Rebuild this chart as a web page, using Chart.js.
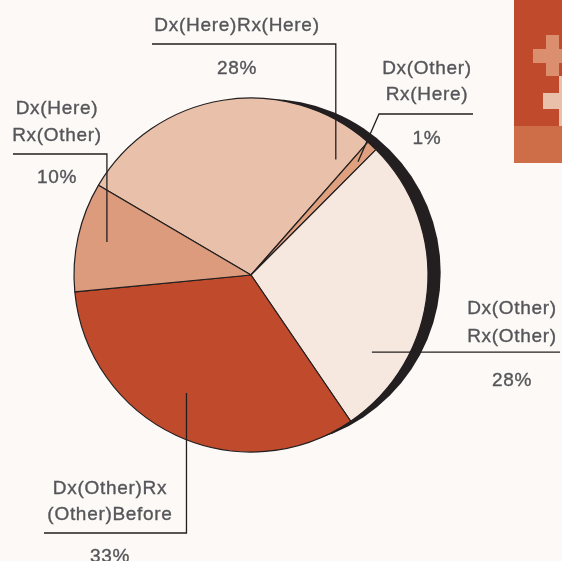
<!DOCTYPE html>
<html>
<head>
<meta charset="utf-8">
<script src="https://cdn.jsdelivr.net/npm/chart.js@4"></script>
<style>
  html, body { margin: 0; padding: 0; background: #fdf9f6; }
  #wrap { width: 562px; height: 561px; position: relative; }
</style>
</head>
<body>
<div id="wrap"><canvas id="pieChart"></canvas></div>
<script>
// data, clockwise from the upper-left slice
const categories = ['Dx(Here)Rx(Here)', 'Dx(Other)Rx(Here)', 'Dx(Other)Rx(Other)', 'Dx(Other)Rx(Other)Before', 'Dx(Here)Rx(Other)'];
const shares = [28, 1, 28, 33, 10];
const labelLines = [['Dx(Here)Rx(Here)'], ['Dx(Other)', 'Rx(Here)'], ['Dx(Other)', 'Rx(Other)'], ['Dx(Other)Rx', '(Other)Before'], ['Dx(Here)', 'Rx(Other)']];
const sliceColors = ['#e9c1aa', '#dea07f', '#f6e8de', '#c04b2c', '#db9b7c'];

// where each callout sits (t = position along the slice, rf = fraction of radius)
const callouts = [
    { t: 0.95, rf: 0.81, path: (a) => [[a.x, 44], [152, 44]], tx: 237, ty: [24], vy: 67 },
    { t: 0.58, rf: 0.88, path: (a) => [[379, 114], [473, 114]], tx: 427, ty: [67, 93], vy: 137 },
    { t: 0.77, rf: 0.81, path: (a) => [[560, a.y]], tx: 512, ty: [307, 335], vy: 379 },
    { t: 0.53, rf: 0.76, path: (a) => [[a.x, 533], [44, 533]], tx: 110, ty: [487, 513], vy: 555 },
    { t: 0.51, rf: 0.835, path: (a) => [[a.x, 154], [13, 154]], tx: 57, ty: [107, 134], vy: 176 }
];

const decoPlugin = {
    id: 'deco',
    beforeDraw(chart) {
        const c = chart.ctx;
        c.save();
        c.fillStyle = '#fdf9f6';
        c.fillRect(0, 0, chart.width, chart.height);
        // corner ornament
        c.fillStyle = '#c04b2c';
        c.fillRect(514, 0, 48, 126);
        c.fillStyle = '#cd6e48';
        c.fillRect(514, 126, 48, 37);
        c.fillStyle = '#dc8f6e';
        c.fillRect(546, 35, 13, 41);
        c.fillRect(533, 49, 29, 14);
        c.fillStyle = '#e9c1aa';
        c.fillRect(559, 76, 3, 50);
        c.fillRect(543, 93, 19, 16);
        c.restore();
    },
    beforeDatasetsDraw(chart) {
        // dark offset disc behind the pie
        const arc = chart.getDatasetMeta(0).data[0];
        if (!arc) return;
        const c = chart.ctx;
        c.save();
        c.fillStyle = '#231f20';
        c.beginPath();
        c.arc(arc.x + 16, arc.y - 2.3, arc.outerRadius - 3.3, 0, Math.PI * 2);
        c.fill();
        c.restore();
    },
    afterDatasetsDraw(chart) {
        const c = chart.ctx;
        const arcs = chart.getDatasetMeta(0).data;
        c.save();
        arcs.forEach((el, i) => {
            const co = callouts[i];
            const ang = el.startAngle + co.t * (el.endAngle - el.startAngle);
            const r = el.outerRadius * co.rf;
            const a = { x: el.x + Math.cos(ang) * r, y: el.y + Math.sin(ang) * r };
            c.strokeStyle = '#231f20';
            c.lineWidth = 1.3;
            c.beginPath();
            c.moveTo(a.x, a.y);
            co.path(a).forEach(p => c.lineTo(p[0], p[1]));
            c.stroke();

            c.fillStyle = '#55565a';
            c.strokeStyle = '#55565a';
            c.lineWidth = 0.35;
            c.font = '19px "Liberation Sans", Arial, sans-serif';
            c.letterSpacing = '0.7px';
            c.textAlign = 'center';
            c.textBaseline = 'middle';
            const put = (txt, y) => {
                c.fillText(txt, co.tx, y + 1.5);
                c.strokeText(txt, co.tx, y + 1.5);
            };
            labelLines[i].forEach((line, k) => put(line, co.ty[k]));
            put(shares[i] + '%', co.vy);
        });
        c.restore();
    }
};

const ctx = document.getElementById('pieChart').getContext('2d');
new Chart(ctx, {
    type: 'pie',
    data: {
        labels: categories,
        datasets: [{
            data: shares,
            backgroundColor: sliceColors,
            borderColor: '#231f20',
            borderWidth: 1.2,
            radius: 177
        }]
    },
    options: {
        responsive: true,
        maintainAspectRatio: false,
        animation: false,
        rotation: 300.5,
        layout: { padding: { left: 0, right: 60, top: 0, bottom: 11 } },
        plugins: {
            legend: { display: false },
            tooltip: { enabled: false }
        }
    },
    plugins: [decoPlugin]
});
</script>
</body>
</html>
